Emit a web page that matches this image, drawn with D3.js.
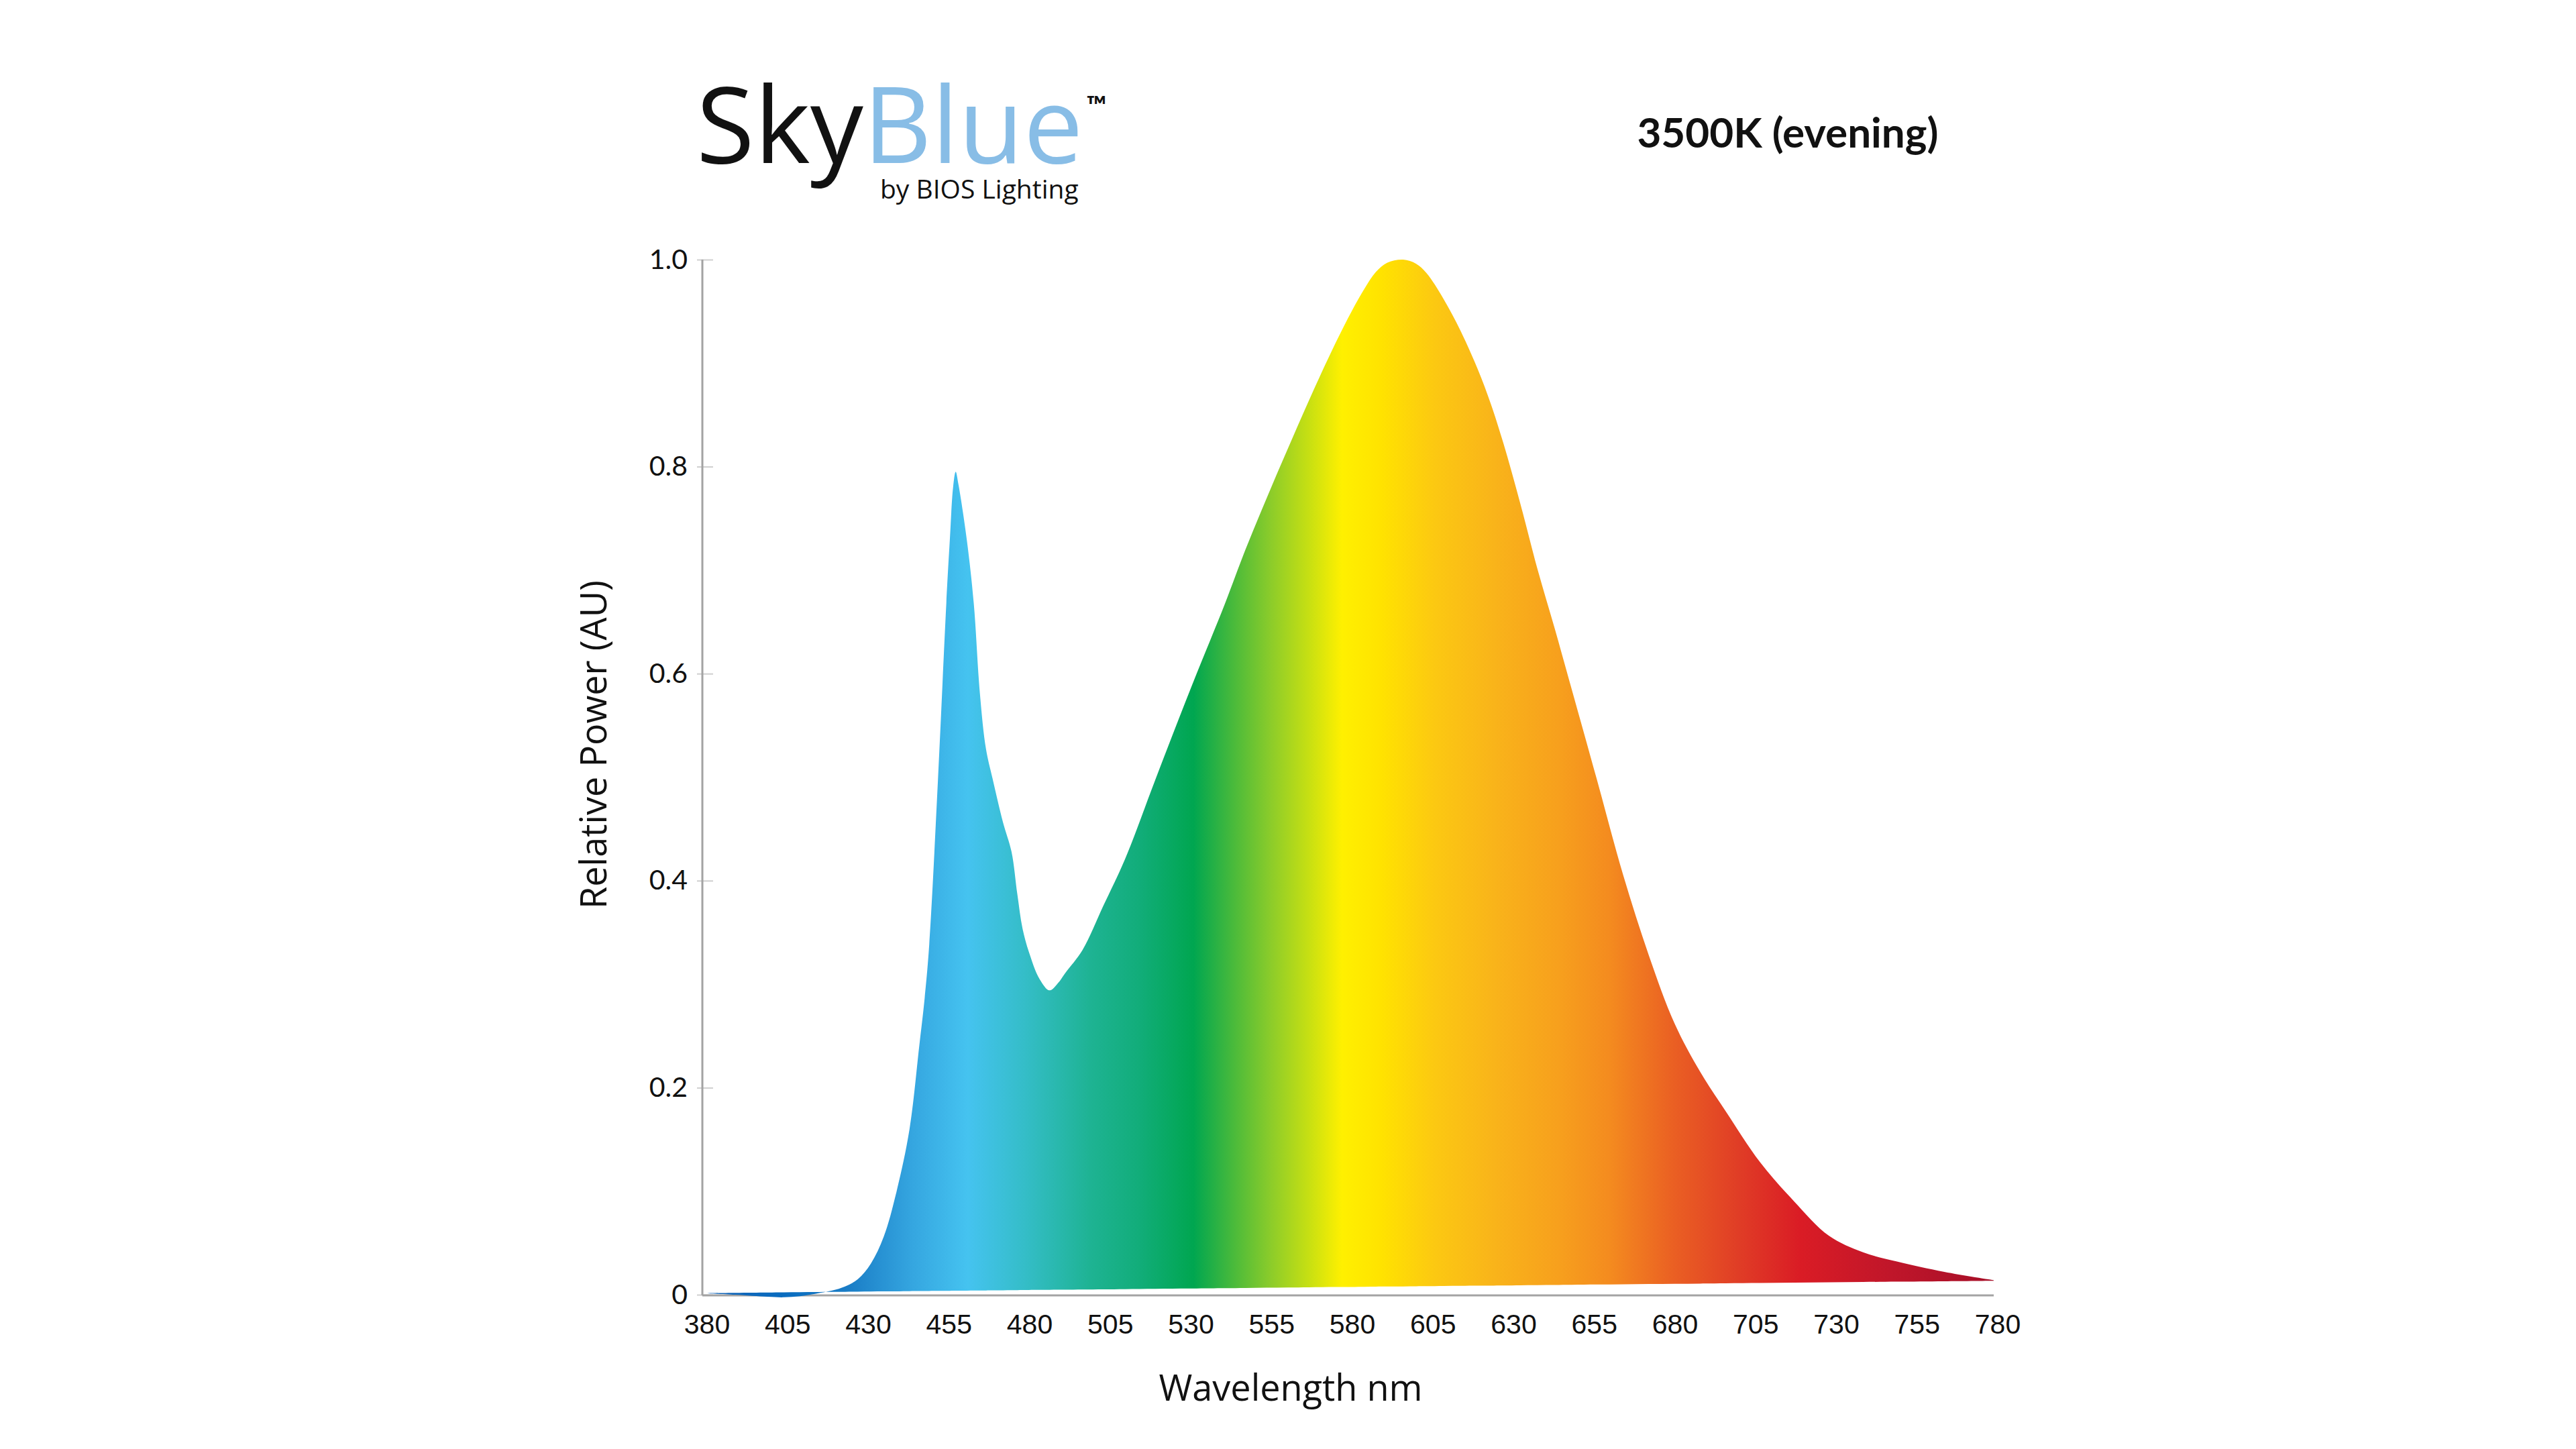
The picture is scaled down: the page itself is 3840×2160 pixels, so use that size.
<!DOCTYPE html>
<html>
<head>
<meta charset="utf-8">
<script src="https://cdn.jsdelivr.net/npm/d3@7"></script>
<style>
  html, body { margin: 0; padding: 0; background: #fff; }
  svg { display: block; }
</style>
</head>
<body>
<svg id="chart"></svg>
<script>
// spectrum (nm, relative power)
const wavelengths = [380, 390, 400, 405, 410, 415, 420, 424, 428, 432, 436, 440, 444, 447, 448.7, 450.1, 452.8, 455.4, 456.5, 457.5, 458.3, 459.2, 461.8, 463.9, 465.8, 467.7, 469.7, 473, 475.6, 477.4, 479, 481, 484.3, 487.4, 490, 492.3, 497.6, 504.1, 510.8, 520.1, 530.8, 541.8, 548, 554.6, 561.2, 567.8, 575.8, 581, 585, 588.5, 592, 597, 601, 604.2, 609.5, 614.8, 620.1, 624.1, 628, 633.4, 638.6, 644, 649.2, 656.9, 665.2, 673.1, 681.1, 689.1, 697, 707.6, 718.2, 728.9, 739.5, 750, 764.7, 780];
const power = [0.0015, 0.0, -0.002, -0.0025, -0.0015, 0.001, 0.004, 0.008, 0.015, 0.030, 0.056, 0.100, 0.160, 0.240, 0.287, 0.338, 0.497, 0.668, 0.730, 0.780, 0.795, 0.782, 0.728, 0.668, 0.581, 0.527, 0.499, 0.456, 0.428, 0.387, 0.354, 0.331, 0.305, 0.294, 0.301, 0.311, 0.333, 0.376, 0.421, 0.497, 0.583, 0.668, 0.719, 0.769, 0.817, 0.864, 0.918, 0.950, 0.972, 0.988, 0.997, 1.0, 0.996, 0.987, 0.962, 0.931, 0.894, 0.861, 0.823, 0.763, 0.701, 0.643, 0.585, 0.499, 0.405, 0.328, 0.262, 0.215, 0.177, 0.128, 0.090, 0.057, 0.041, 0.032, 0.022, 0.014];

// the fill's lower edge is a slightly rising straight line
const baselineNm = [380, 780];
const baselineValue = [0.0015, 0.0135];

const xTicks = [380, 405, 430, 455, 480, 505, 530, 555, 580, 605, 630, 655, 680, 705, 730, 755, 780];
const yTicks = [0, 0.2, 0.4, 0.6, 0.8, 1.0];
const yTickLabels = ["0", "0.2", "0.4", "0.6", "0.8", "1.0"];

// spectrum gradient colours by wavelength
const stopNm = [380, 405, 425, 445, 462, 480, 500, 515, 532, 545, 556, 568, 578, 590, 607, 625, 645, 661, 681, 701, 720, 748, 780];
const stopColor = ["#1463b6", "#0a6cbf", "#1a7dc6", "#35a6e0", "#45c3f0", "#34bdc7", "#1eb393", "#12ad7a", "#00a650", "#4dbb3a", "#8ccc2a", "#c8e012", "#fff000", "#ffe300", "#fcc812", "#f9b41a", "#f7a01d", "#f48b1f", "#ea5f23", "#e03d26", "#da1c25", "#c0162a", "#a60f28"];

const W = 3840, H = 2160;
const svg = d3.select("#chart").attr("width", W).attr("height", H);
svg.append("rect").attr("width", W).attr("height", H).attr("fill", "#fff");

const x = d3.scaleLinear().domain([380, 780]).range([1048, 2972]);
const y = d3.scaleLinear().domain([0, 1]).range([1930, 387]);
const base = d3.scaleLinear().domain(baselineNm).range(baselineValue);

const data = wavelengths.map((nm, i) => ({ nm, p: power[i] }));

// gradient
const grad = svg.append("defs").append("linearGradient")
    .attr("id", "spectrum")
    .attr("gradientUnits", "userSpaceOnUse")
    .attr("x1", x(380)).attr("x2", x(780))
    .attr("y1", 0).attr("y2", 0);

grad.selectAll("stop")
    .data(stopNm)
    .enter().append("stop")
    .attr("offset", d => (d - 380) / 400)
    .attr("stop-color", (d, i) => stopColor[i]);

// axes
const axisColor = "#a3a3a3";

const yAxis = svg.append("g")
    .attr("transform", `translate(${x(380) - 1}, 0)`)
    .call(d3.axisLeft(y).tickValues(yTicks).tickSize(8).tickPadding(14)
        .tickFormat((d, i) => yTickLabels[i]));
yAxis.select(".domain").remove();
yAxis.selectAll(".tick line")
    .attr("x1", 16)
    .attr("stroke", "#cfcfcf")
    .attr("stroke-width", 2);
yAxis.selectAll(".tick text")
    .attr("fill", "#111")
    .style("font-family", "Lato, 'Open Sans', sans-serif")
    .style("font-size", "41px");

svg.append("line")
    .attr("x1", x(380) - 1).attr("x2", x(380) - 1)
    .attr("y1", y(1)).attr("y2", y(0) + 1)
    .attr("stroke", axisColor).attr("stroke-width", 3);

svg.append("line")
    .attr("x1", x(380) - 1).attr("x2", x(780))
    .attr("y1", y(0) + 1).attr("y2", y(0) + 1)
    .attr("stroke", axisColor).attr("stroke-width", 3);

// spectrum fill
const area = d3.area()
    .x(d => x(d.nm))
    .y0(d => y(base(d.nm)))
    .y1(d => y(d.p))
    .curve(d3.curveCatmullRom.alpha(0.5));

svg.append("path")
    .datum(data)
    .attr("d", area)
    .attr("fill", "url(#spectrum)");

// x tick labels
svg.append("g")
    .selectAll("text")
    .data(xTicks)
    .enter().append("text")
    .attr("x", d => x(d) + 6)
    .attr("y", 1988)
    .attr("text-anchor", "middle")
    .attr("fill", "#111")
    .style("font-family", "'Liberation Sans', Arial, sans-serif")
    .style("font-size", "41px")
    .text(d => d);

// axis titles
svg.append("text")
    .attr("x", 1924)
    .attr("y", 2088)
    .attr("text-anchor", "middle")
    .attr("fill", "#111")
    .style("font-family", "'Open Sans', sans-serif")
    .style("font-size", "54px")
    .text("Wavelength nm");

svg.append("text")
    .attr("transform", "translate(904, 1110) rotate(-90)")
    .attr("text-anchor", "middle")
    .attr("fill", "#111")
    .style("font-family", "'Open Sans', sans-serif")
    .style("font-size", "54px")
    .text("Relative Power (AU)");

// title
svg.append("text")
    .attr("x", 2665)
    .attr("y", 220)
    .attr("text-anchor", "middle")
    .attr("fill", "#111")
    .style("font-family", "Lato, sans-serif")
    .style("font-weight", "700")
    .style("font-size", "62px")
    .text("3500K (evening)");

// logo
const logo = svg.append("text")
    .attr("x", 1038)
    .attr("y", 243)
    .style("font-family", "'Open Sans', sans-serif")
    .style("font-size", "158px");
logo.append("tspan").attr("fill", "#111").text("Sky");
logo.append("tspan").attr("fill", "#88bde6").text("Blue");

svg.append("text")
    .attr("x", 1619)
    .attr("y", 172)
    .attr("fill", "#111")
    .style("font-family", "Lato, sans-serif")
    .style("font-weight", "700")
    .style("font-size", "40px")
    .text("™");

svg.append("text")
    .attr("x", 1312)
    .attr("y", 296)
    .attr("fill", "#111")
    .style("font-family", "'Open Sans', sans-serif")
    .style("font-size", "39px")
    .text("by BIOS Lighting");
</script>
</body>
</html>
